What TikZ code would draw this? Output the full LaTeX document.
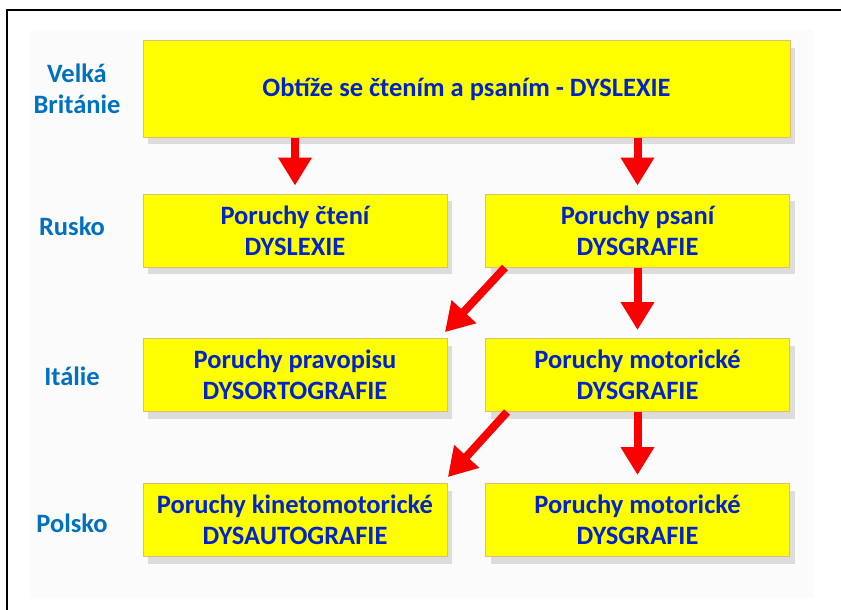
\documentclass[tikz,border=0pt]{standalone}
\usepackage{fontspec}
\setmainfont{Carlito}
\usetikzlibrary{arrows.meta,calc,shadows}

\definecolor{boxtext}{RGB}{0,36,200}
\definecolor{landtext}{RGB}{0,112,192}
\definecolor{boxline}{RGB}{236,186,110}
\definecolor{arrowred}{RGB}{250,0,0}
\definecolor{boxfill}{RGB}{255,255,0}

\tikzset{
  disorder/.style={draw=boxline, line width=1pt, fill=boxfill,
    minimum width=304pt, minimum height=73pt, inner sep=0pt,
    align=center, text=boxtext, font=\fontsize{26.5}{31}\selectfont\bfseries,
    drop shadow={shadow xshift=5pt, shadow yshift=-7pt, opacity=0.25, fill=gray}},
  land/.style={align=center, text=landtext,
    font=\fontsize{26.5}{31}\selectfont\bfseries},
  redarrow/.style={draw=arrowred, line width=8pt,
    -{Triangle[width=32pt,length=28pt]}, shorten >=8pt}
}

\begin{document}
\begin{tikzpicture}[x=1pt,y=-1pt]

        % Page and frame
        \useasboundingbox (0,0) rectangle (841,610);
        \fill[gray!3] (30,30) rectangle (813,598);
        \draw[line width=2pt] (7,610) -- (7,10) -- (841,10);

        % Boxes
        \node[disorder, minimum width=647pt, minimum height=96pt] (dyslex)
            at (466.5,89) {Obtíže se čtením a psaním - DYSLEXIE};
        \node[disorder] (cteni) at (295,230.5) {Poruchy čtení\\DYSLEXIE};
        \node[disorder] (psani) at (637.5,230.5) {Poruchy psaní\\DYSGRAFIE};
        \node[disorder] (pravopis) at (295,375) {Poruchy pravopisu\\DYSORTOGRAFIE};
        \node[disorder] (motor) at (637.5,375) {Poruchy motorické\\DYSGRAFIE};
        \node[disorder] (kineto) at (295,520) {Poruchy kinetomotorické\\DYSAUTOGRAFIE};
        \node[disorder] (motorb) at (637.5,520) {Poruchy motorické\\DYSGRAFIE};

        % Countries
        \node[land] (gb) at (77,89) {Velká\\Británie};
        \node[land] (ru) at (72,226) {Rusko};
        \node[land] (it) at (72,376) {Itálie};
        \node[land] (pl) at (72,523) {Polsko};

        % Arrows
        \draw[redarrow] (dyslex.south -| cteni.north) -- (cteni.north);
        \draw[redarrow] (dyslex.south -| psani.north) -- (psani.north);
        \draw[redarrow] (psani.south) -- (motor.north);
        \draw[redarrow] (motor.south) -- (motorb.north);
        \draw[redarrow] ($(psani.south west)+(20,0)$)
            -- ($(pravopis.north east)+(-8,0)$);
        \draw[redarrow] ($(motor.south west)+(22,0)$)
            -- ($(kineto.north east)+(-5,0)$);

    \end{tikzpicture}
\end{document}
